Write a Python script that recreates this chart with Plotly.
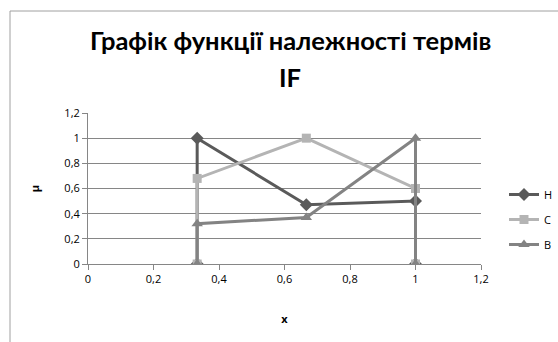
import plotly.graph_objects as go

# Membership functions of the IF terms
x_vals = [1/3, 1/3, 2/3, 1, 1]
mu_h = [0, 1, 0.47, 0.5, 0]
mu_c = [0, 0.68, 1, 0.6, 0]
mu_b = [0, 0.32, 0.37, 1, 0]

term_names = ["Н", "С", "В"]
x_ticks = [0, 0.2, 0.4, 0.6, 0.8, 1, 1.2]
x_tick_text = ["0", "0,2", "0,4", "0,6", "0,8", "1", "1,2"]
y_ticks = [0, 0.2, 0.4, 0.6, 0.8, 1, 1.2]
y_tick_text = ["0", "0,2", "0,4", "0,6", "0,8", "1", "1,2"]
title_lines = ["Графік функції належності термів", "IF"]

styles = [
    ("#5a5a5a", "diamond", 10),
    ("#b4b4b4", "square", 9),
    ("#838383", "triangle-up", 10),
]

fig = go.Figure()
for name, ys, (color, symbol, size) in zip(term_names, [mu_h, mu_c, mu_b], styles):
    fig.add_trace(go.Scatter(
        x=x_vals, y=ys, name=name, mode="lines+markers",
        line=dict(color=color, width=3),
        marker=dict(symbol=symbol, size=size, color=color),
        legendgroup=name,
    ))

W, H = 558, 342
ML, MR, MT, MB = 88, 77, 113, 78
PW, PH = W - ML - MR, H - MT - MB


def px_x(p):
    return (p - ML) / PW


def px_y(p):
    return (H - MB - p) / PH


annotations = [
    dict(text=f"<b>{t}</b>", xref="paper", yref="paper",
         x=px_x(290), y=px_y(yc), xanchor="center", yanchor="middle",
         showarrow=False, font=dict(family="Lato", size=25.5, color="black"))
    for t, yc in zip(title_lines, [40, 77])
]

# chart frame: left and top edges
frame = [
    dict(type="line", xref="paper", yref="paper",
         x0=px_x(10), x1=px_x(10), y0=px_y(H + 2), y1=px_y(11),
         line=dict(color="#a0a0a0", width=1), layer="below"),
    dict(type="line", xref="paper", yref="paper",
         x0=px_x(10), x1=px_x(W + 2), y0=px_y(11), y1=px_y(11),
         line=dict(color="#a0a0a0", width=1), layer="below"),
]

fig.update_layout(
    width=W, height=H,
    margin=dict(l=ML, r=MR, t=MT, b=MB, autoexpand=False),
    paper_bgcolor="white", plot_bgcolor="white",
    font=dict(family="Open Sans", size=11, color="black"),
    annotations=annotations,
    showlegend=True,
    legend=dict(
        x=px_x(504), xanchor="left", y=px_y(180), yanchor="top",
        font=dict(size=11), tracegroupgap=6, itemwidth=30,
        bgcolor="rgba(0,0,0,0)",
    ),
    xaxis=dict(
        range=[0, 1.2], tickvals=x_ticks, ticktext=x_tick_text,
        showgrid=False, zeroline=False,
        showline=True, linecolor="#868686", linewidth=1,
        ticks="outside", ticklen=5, tickcolor="#868686",
        title=dict(text="<b>x</b>", standoff=30, font=dict(size=11)),
        fixedrange=True,
    ),
    yaxis=dict(
        range=[0, 1.2], tickvals=y_ticks, ticktext=y_tick_text,
        showgrid=True, gridcolor="#868686", gridwidth=1, zeroline=False,
        showline=True, linecolor="#868686", linewidth=1,
        ticks="outside", ticklen=5, tickcolor="#868686",
        title=dict(text="<b>μ</b>", standoff=22, font=dict(size=11)),
        fixedrange=True,
    ),
    shapes=frame,
)

fig.write_html("out.html")
